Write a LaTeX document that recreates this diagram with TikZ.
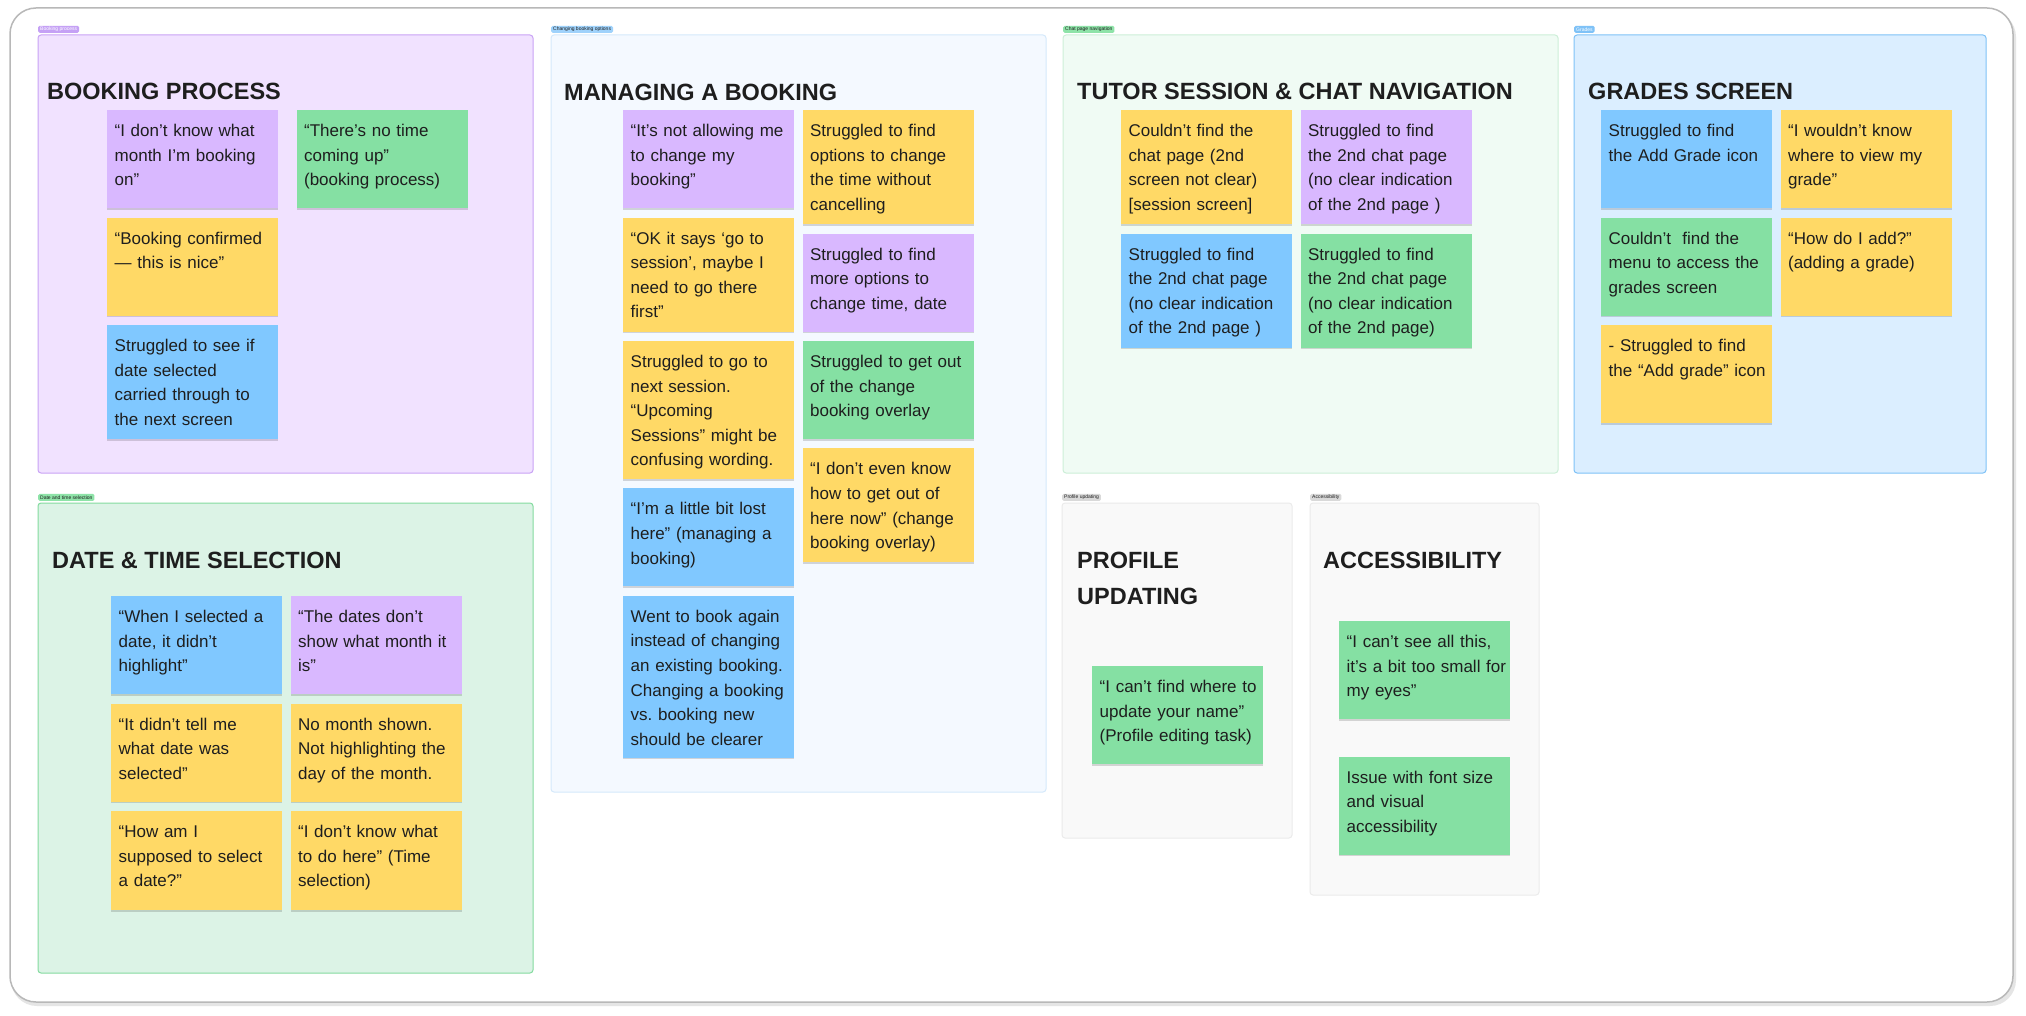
\documentclass[tikz,border=0pt]{standalone}
\usepackage{fontspec}
\setmainfont{Liberation Sans}
\usetikzlibrary{positioning,shadows}

\definecolor{ink}{HTML}{1E1E1E}
\definecolor{nPur}{HTML}{D9B8FF}
\definecolor{nGrn}{HTML}{85E0A3}
\definecolor{nYel}{HTML}{FFD966}
\definecolor{nBlu}{HTML}{80C8FF}
\definecolor{bpFill}{HTML}{F1E2FF}
\definecolor{bpLine}{HTML}{C9A3F5}
\definecolor{bpTag}{HTML}{C5A1F5}
\definecolor{mbFill}{HTML}{F4F9FF}
\definecolor{mbLine}{HTML}{D5E9FB}
\definecolor{mbTag}{HTML}{9FD2FB}
\definecolor{tsFill}{HTML}{F0FBF4}
\definecolor{tsLine}{HTML}{CDEFD8}
\definecolor{tsTag}{HTML}{8EE3A8}
\definecolor{gsFill}{HTML}{DBEEFF}
\definecolor{gsLine}{HTML}{7FC2F7}
\definecolor{gsTag}{HTML}{7FC2F7}
\definecolor{dtFill}{HTML}{DCF3E6}
\definecolor{dtLine}{HTML}{84DB9F}
\definecolor{pfFill}{HTML}{F9F9F9}
\definecolor{pfLine}{HTML}{EBEBEB}
\definecolor{pfTag}{HTML}{D9D9D9}

\begin{document}
\begin{tikzpicture}[x=1pt,y=-1pt,
  grp/.style={rounded corners=3pt,line width=1pt},
  tag/.style={anchor=south west,rounded corners=1.5pt,inner xsep=2pt,inner ysep=0pt,minimum height=7pt,font=\fontsize{5}{5}\selectfont},
  ttl/.style={anchor=base west,inner sep=0pt,text=ink,font=\fontsize{23.5}{36}\selectfont\bfseries},
  note/.style={anchor=north west,text width=156pt,inner xsep=7.5pt,inner ysep=0pt,align=left,
    text height=26.5pt,text depth=#1pt-26.5pt,text=ink,font=\fontsize{17}{24.6}\selectfont,
    drop shadow={shadow xshift=0pt,shadow yshift=-1.5pt,opacity=.15,fill=black}}]
\useasboundingbox (0,0) rectangle (2026,1016);
\fill[white] (0,0) rectangle (2026,1016);
\fill[black!10,rounded corners=26pt] (11,11) rectangle (2016,1006);
\draw[black!28,fill=white,line width=1.5pt,rounded corners=26pt] (10,8) rectangle (2013,1002);

\draw[grp,draw=bpLine,fill=bpFill] (38,35) rectangle (533,473);
\draw[grp,draw=mbLine,fill=mbFill] (551,35) rectangle (1046,792);
\draw[grp,draw=tsLine,fill=tsFill] (1063,35) rectangle (1558,473);
\draw[grp,draw=gsLine,fill=gsFill] (1574,35) rectangle (1986,473);
\draw[grp,draw=dtLine,fill=dtFill] (38,503) rectangle (533,973);
\draw[grp,draw=pfLine,fill=pfFill] (1062,503) rectangle (1292,838);
\draw[grp,draw=pfLine,fill=pfFill] (1310,503) rectangle (1539,895);

\node[tag,fill=bpTag,text=white] (bpTag) at (38,33) {Booking process};
\node[tag,fill=mbTag,text=ink] (mbTag) at (551,33) {Changing booking options};
\node[tag,fill=tsTag,text=ink] (tsTag) at (1063,33) {Chat page navigation};
\node[tag,fill=gsTag,text=white] (gsTag) at (1574,33) {Grades};
\node[tag,fill=tsTag,text=ink] (dtTag) at (38,501) {Date and time selection};
\node[tag,fill=pfTag,text=ink] (pfTag) at (1062,501) {Profile updating};
\node[tag,fill=pfTag,text=ink] (acTag) at (1310,501) {Accessibility};

\node[ttl] (bpT) at (47,100) {BOOKING PROCESS};
\node[ttl] (mbT) at (564,101) {MANAGING A BOOKING};
\node[ttl] (tsT) at (1077,100) {TUTOR SESSION \& CHAT NAVIGATION};
\node[ttl] (gsT) at (1588,100) {GRADES SCREEN};
\node[ttl] (dtT) at (52,568) {DATE \& TIME SELECTION};
\node[ttl,anchor=north west,text width=200pt,align=left,text height=0pt] (pfT) at (1077,568) {PROFILE\\UPDATING};
\node[ttl] (acT) at (1323,568) {ACCESSIBILITY};

\node[note=98,fill=nPur] (bp1) at (107,110) {“I don’t know what\\month I’m booking\\on”};
\node[right=18pt of bp1.north east,note=98,fill=nGrn] (bp2) {“There’s no time\\coming up”\\(booking process)};
\node[below=9pt of bp1.south west,note=98,fill=nYel] (bp3) {“Booking confirmed\\— this is nice”};
\node[below=9pt of bp3.south west,note=114,fill=nBlu] (bp4) {Struggled to see if\\date selected\\carried through to\\the next screen};

\node[note=98,fill=nPur] (mb1) at (623,110) {“It’s not allowing me\\to change my\\booking”};
\node[below=9pt of mb1.south west,note=114,fill=nYel] (mb2) {“OK it says ‘go to\\session’, maybe I\\need to go there\\first”};
\node[below=9pt of mb2.south west,note=138,fill=nYel] (mb3) {Struggled to go to\\next session.\\“Upcoming\\Sessions” might be\\confusing wording.};
\node[below=9pt of mb3.south west,note=98,fill=nBlu] (mb4) {“I’m a little bit lost\\here” (managing a\\booking)};
\node[below=9pt of mb4.south west,note=162,fill=nBlu] (mb5) {Went to book again\\instead of changing\\an existing booking.\\Changing a booking\\vs.\ booking new\\should be clearer};
\node[right=8pt of mb1.north east,note=114,fill=nYel] (mb6) {Struggled to find\\options to change\\the time without\\cancelling};
\node[below=9pt of mb6.south west,note=98,fill=nPur] (mb7) {Struggled to find\\more options to\\change time, date};
\node[below=9pt of mb7.south west,note=98,fill=nGrn] (mb8) {Struggled to get out\\of the change\\booking overlay};
\node[below=9pt of mb8.south west,note=114,fill=nYel] (mb9) {“I don’t even know\\how to get out of\\here now” (change\\booking overlay)};

\node[note=114,fill=nYel] (ts1) at (1121,110) {Couldn’t find the\\chat page (2nd\\screen not clear)\\{}[session screen]};
\node[right=8pt of ts1.north east,note=114,fill=nPur] (ts2) {Struggled to find\\the 2nd chat page\\(no clear indication\\of the 2nd page )};
\node[below=9pt of ts1.south west,note=114,fill=nBlu] (ts3) {Struggled to find\\the 2nd chat page\\(no clear indication\\of the 2nd page )};
\node[below=9pt of ts2.south west,note=114,fill=nGrn] (ts4) {Struggled to find\\the 2nd chat page\\(no clear indication\\of the 2nd page)};

\node[note=98,fill=nBlu] (gs1) at (1601,110) {Struggled to find\\the Add Grade icon};
\node[right=8pt of gs1.north east,note=98,fill=nYel] (gs2) {“I wouldn’t know\\where to view my\\grade”};
\node[below=9pt of gs1.south west,note=98,fill=nGrn] (gs3) {Couldn’t~ find the\\menu to access the\\grades screen};
\node[below=9pt of gs2.south west,note=98,fill=nYel] (gs4) {“How do I add?”\\(adding a grade)};
\node[below=9pt of gs3.south west,note=98,fill=nYel] (gs5) {- Struggled to find\\\mbox{the “Add grade” icon}};

\node[note=98,fill=nBlu] (dt1) at (111,596) {“When I selected a\\date, it didn’t\\highlight”};
\node[right=8pt of dt1.north east,note=98,fill=nPur] (dt2) {“The dates don’t\\show what month it\\is”};
\node[below=9pt of dt1.south west,note=98,fill=nYel] (dt3) {“It didn’t tell me\\what date was\\selected”};
\node[below=9pt of dt2.south west,note=98,fill=nYel] (dt4) {No month shown.\\Not highlighting the\\day of the month.};
\node[below=9pt of dt3.south west,note=99,fill=nYel] (dt5) {“How am I\\supposed to select\\a date?”};
\node[below=9pt of dt4.south west,note=99,fill=nYel] (dt6) {“I don’t know what\\to do here” (Time\\selection)};

\node[note=98,fill=nGrn] (pu1) at (1092,666) {\mbox{“I can’t find where to}\\update your name”\\(Profile editing task)};

\node[note=98,fill=nGrn] (ac1) at (1339,621) {“I can’t see all this,\\\mbox{it’s a bit too small for}\\my eyes”};
\node[below=37pt of ac1.south west,note=98,fill=nGrn] (ac2) {Issue with font size\\and visual\\accessibility};
\end{tikzpicture}
\end{document}
